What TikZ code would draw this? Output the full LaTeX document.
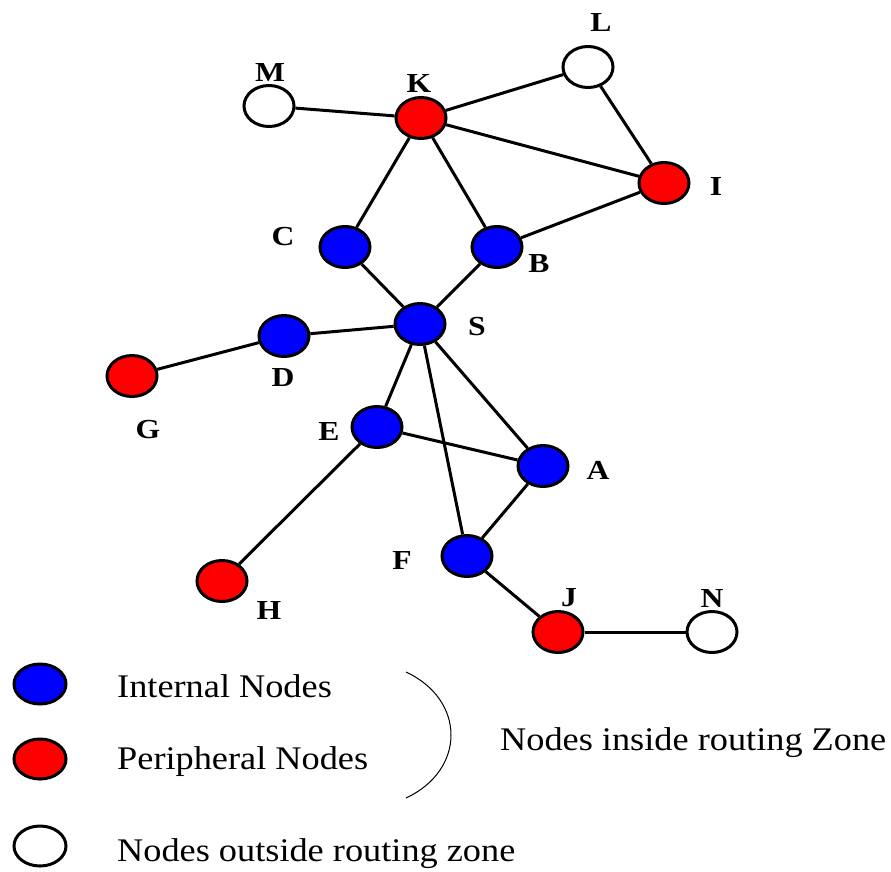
\documentclass[tikz,border=0pt]{standalone}
\usepackage{fontspec}
\usetikzlibrary{shapes.geometric}
\newfontfamily\lblfont[FakeStretch=1.15]{Liberation Serif}
\newfontfamily\legfont[FakeStretch=1.1]{Liberation Serif}
\definecolor{intblue}{RGB}{0,0,255}
\definecolor{perred}{RGB}{255,0,0}
\begin{document}
\begin{tikzpicture}[x=1pt,y=-1pt,
  vnode/.style={ellipse,draw=black,line width=3pt,minimum width=50pt,minimum height=41pt,inner sep=0pt},
  internal/.style={vnode,fill=intblue},
  peripheral/.style={vnode,fill=perred},
  outside/.style={vnode,fill=white},
  lnode/.style={ellipse,draw=black,line width=3pt,minimum width=52pt,minimum height=40pt,inner sep=0pt},
  edge/.style={line width=3pt},
  lbl/.style={font=\lblfont\bfseries\fontsize{27.5}{27.5}\selectfont,inner sep=0pt},
  legtext/.style={font=\legfont\fontsize{33}{33}\selectfont,inner sep=0pt,anchor=base west}]
\useasboundingbox (0,0) rectangle (891,871);
% graph nodes
\node[outside] (M) at (269,106) {};
\node[peripheral] (K) at (421,118) {};
\node[outside] (L) at (588,67) {};
\node[peripheral] (I) at (664,183) {};
\node[internal] (C) at (345,247) {};
\node[internal] (B) at (497,247) {};
\node[internal] (S) at (420,324) {};
\node[internal] (D) at (284,336) {};
\node[peripheral] (G) at (132,376) {};
\node[internal] (E) at (377,427) {};
\node[internal] (A) at (543,466) {};
\node[internal] (F) at (467,556) {};
\node[peripheral] (H) at (222,581) {};
\node[peripheral] (J) at (558,632) {};
\node[outside] (N) at (712,632) {};
% labels
\node[lbl] (lM) at (270,72) {M};
\node[lbl] (lK) at (419,83) {K};
\node[lbl] (lL) at (601,22) {L};
\node[lbl] (lI) at (716,186) {I};
\node[lbl] (lC) at (283,237) {C};
\node[lbl] (lB) at (539,264) {B};
\node[lbl] (lS) at (477,327) {S};
\node[lbl] (lD) at (283,378) {D};
\node[lbl] (lG) at (148,430) {G};
\node[lbl] (lE) at (329,431) {E};
\node[lbl] (lA) at (598,470) {A};
\node[lbl] (lF) at (402,560) {F};
\node[lbl] (lH) at (269,610) {H};
\node[lbl] (lJ) at (569,598) {J};
\node[lbl] (lN) at (712,598) {N};
% edges, from border to border
\draw[edge] (M) -- (K);
\draw[edge] (K) -- (L);
\draw[edge] (L) -- (I);
\draw[edge] (K) -- (I);
\draw[edge] (K) -- (C);
\draw[edge] (K) -- (B);
\draw[edge] (B) -- (I);
\draw[edge] (C) -- (S);
\draw[edge] (B) -- (S);
\draw[edge] (D) -- (S);
\draw[edge] (G) -- (D);
\draw[edge] (S) -- (E);
\draw[edge] (S) -- (F);
\draw[edge] (S) -- (A);
\draw[edge] (E) -- (A);
\draw[edge] (E) -- (H);
\draw[edge] (A) -- (F);
\draw[edge] (F) -- (J);
\draw[edge] (J) -- (N);
% legend
\node[lnode,fill=intblue] (legI) at (40,684) {};
\node[lnode,fill=perred] (legP) at (40,759) {};
\node[lnode,fill=white] (legO) at (40,846) {};
\node[legtext] (tI) at (117,697) {Internal Nodes};
\node[legtext] (tP) at (117,769) {Peripheral Nodes};
\node[legtext] (tO) at (117,861) {Nodes outside routing zone};
\node[legtext] (tZ) at (500,750) {Nodes inside routing Zone};
\coordinate (arcA) at (406,672);
\coordinate (arcB) at (406,798);
\draw[line width=1pt] (arcA) .. controls (466,700) and (466,770) .. (arcB);
\end{tikzpicture}
\end{document}
